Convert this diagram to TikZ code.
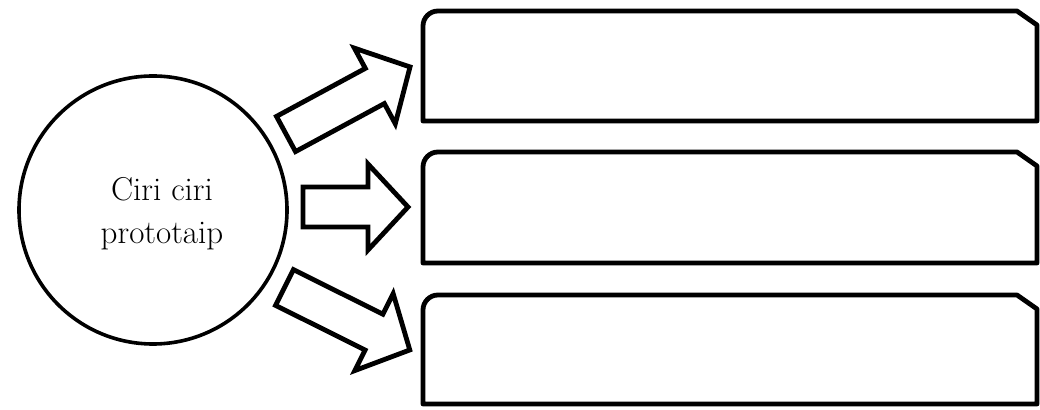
\documentclass[tikz,border=0pt]{standalone}
\usepackage{fontspec}
\usepackage{tikz}
\usetikzlibrary{positioning,calc}
\tikzset{
  boxline/.style={line width=1.2mm, line join=round},
  blockarrow/.style={line width=1.2mm, line join=miter},
}
\begin{document}
\begin{tikzpicture}[x=0.25mm, y=-0.25mm]
    \useasboundingbox[fill=white] (0,0) rectangle (1040,410);

    % Circle with the title
    \node[draw, circle, line width=0.9mm, minimum size=67mm, inner sep=0pt] (ciri) at (153,210) {};
    \node[align=center, font=\fontsize{23.5}{30.5}\selectfont] (judul) at ($(ciri.center)+(9,4)$) {Ciri ciri\\prototaip};

    % Three empty boxes (rounded top left, cut top right)
    \foreach \ytop/\ybot in {11/121, 152/263, 295/404} {
        \draw[boxline] (423,\ybot) -- (423,\ytop+15) arc[start angle=180, end angle=270, radius=15]
            -- (1017,\ytop) -- (1037,\ytop+14) -- (1037,\ybot) -- cycle;
    }

    % Block arrows from circle to boxes
    \foreach \px/\py/\ang/\len in {286/134/28.4/141, 303/207/0/105, 284.5/287.5/-26.5/140} {
        \begin{scope}[shift={(\px,\py)}, rotate=\ang]
            \draw[blockarrow] (0,-20) -- (\len-40,-20) -- (\len-40,-43) -- (\len,0)
                -- (\len-40,43) -- (\len-40,20) -- (0,20) -- cycle;
        \end{scope}
    }

\end{tikzpicture}
\end{document}
